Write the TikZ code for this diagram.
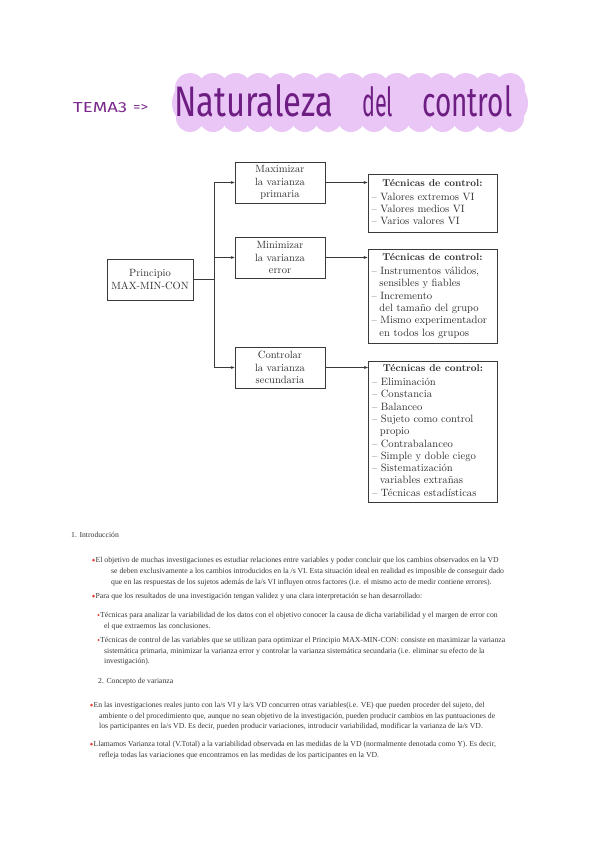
\documentclass[tikz,border=0pt]{standalone}
\usepackage{fontspec}
\usetikzlibrary{arrows.meta}
\newfontfamily\handfont{Fira Sans}
\newfontfamily\bodyfont{Liberation Serif}
\definecolor{blobc}{HTML}{E9C6F6}
\definecolor{titlec}{HTML}{6E1E82}
\definecolor{temac}{HTML}{7A2A8C}
\definecolor{linec}{HTML}{3A3A3A}
\definecolor{txtc}{HTML}{2E2E2E}
\definecolor{bodyc}{HTML}{383838}
\definecolor{redc}{HTML}{E8433B}
\tikzset{
  lbox/.style={draw=linec, line width=0.7pt, minimum width=90pt, minimum height=41pt, align=center, text=txtc, font=\fontsize{10.5}{12.5}\selectfont, inner sep=2pt},
  rbox/.style={draw=linec, line width=0.9pt, minimum width=129pt, align=left, text=txtc, font=\fontsize{10.6}{12.3}\selectfont, inner sep=2pt},
  conn/.style={draw=linec, line width=0.8pt},
  arr/.style={conn, -{Stealth[length=4pt,width=3pt]}},
  body/.style={anchor=base west, inner sep=0pt, text=bodyc, font=\bodyfont\fontsize{7.7}{10}\selectfont},
  dot/.style={fill=redc},
}
\newcommand{\hdr}{\makebox[122pt]{\fontsize{10}{12}\selectfont\textbf{Técnicas de control:}}}
\newcommand{\ind}{\hspace*{0.75em}}
\begin{document}
\begin{tikzpicture}[x=1pt,y=-1pt]
\useasboundingbox[fill=white] (0,0) rectangle (600,848);
% title blob
\fill[blobc] (180,84) rectangle (518,124);
\foreach \x in {190,213,236,259,282,305,328,351,374,397,420,443,466,489,510}{
  \fill[blobc] (\x,88) circle (15);
  \fill[blobc] (\x,118) circle (14);
}
\fill[blobc] (196,103) circle (24);
\fill[blobc] (504,103) circle (24);
\node[anchor=base west, inner sep=0pt, text=temac] (tema) at (73,113) {\resizebox{54pt}{10pt}{\handfont TEMA3}};
\node[anchor=base west, inner sep=0pt, text=temac] (impl) at (133,112) {\resizebox{15pt}{7pt}{\handfont =>}};
\node[anchor=base west, inner sep=0pt, text=titlec] (t1) at (174,117) {\resizebox{159pt}{32pt}{\handfont Naturaleza}};
\node[anchor=base west, inner sep=0pt, text=titlec] (t2) at (362,117) {\resizebox{31pt}{30pt}{\handfont del}};
\node[anchor=base west, inner sep=0pt, text=titlec] (t3) at (422,117) {\resizebox{90pt}{31pt}{\handfont control}};
% diagram
\node[lbox, minimum width=86pt] (p) at (150,279.5) {Principio\\MAX-MIN-CON};
\node[lbox] (b1) at (280,182.5) {Maximizar\\la varianza\\primaria};
\node[lbox] (b2) at (280,257.5) {Minimizar\\la varianza\\error};
\node[lbox] (b3) at (280,367.5) {Controlar\\la varianza\\secundaria};
\node[rbox, minimum height=58pt] (r1) at (432.5,203) {\begin{tabular}{@{}l@{}}\hdr\\[1.5pt]
– Valores extremos VI\\
– Valores medios VI\\
– Varios valores VI\end{tabular}};
\node[rbox, minimum height=94pt] (r2) at (432.5,296) {\begin{tabular}{@{}l@{}}\hdr\\[1.5pt]
– Instrumentos válidos,\\
\ind sensibles y fiables\\
– Incremento\\
\ind del tamaño del grupo\\
– Mismo experimentador\\
\ind en todos los grupos\end{tabular}};
\node[rbox, minimum height=141pt] (r3) at (433,431.5) {\begin{tabular}{@{}l@{}}\hdr\\[1.5pt]
– Eliminación\\
– Constancia\\
– Balanceo\\
– Sujeto como control\\
\ind propio\\
– Contrabalanceo\\
– Simple y doble ciego\\
– Sistematización\\
\ind variables extrañas\\
– Técnicas estadísticas\end{tabular}};
\coordinate (jn) at (214,279.5);
\draw[conn] (p.east) -- (jn);
\draw[conn] (jn |- b1.west) -- (jn |- b3.west);
\draw[arr] (jn |- b1.west) -- (b1.west);
\draw[arr] (jn |- b2.west) -- (b2.west);
\draw[arr] (jn |- b3.west) -- (b3.west);
\draw[arr] (b1.east) -- (b1.east -| r1.west);
\draw[arr] (b2.east) -- (b2.east -| r2.west);
\draw[arr] (b3.east) -- (b3.east -| r3.west);
% body text
\node[body] (s1) at (71,537.5) {1. Introducción};
\fill[dot] (93.5,560) circle (1.5);
\node[body] (a1) at (95.5,562.5) {El objetivo de muchas investigaciones es estudiar relaciones entre variables y poder concluir que los cambios observados en la VD};
\node[body] (a2) at (111,573.5) {se deben exclusivamente a los cambios introducidos en la /s VI. Esta situación ideal en realidad es imposible de conseguir dado};
\node[body] (a3) at (111,584) {que en las respuestas de los sujetos además de la/s VI influyen otros factores (i.e. el mismo acto de medir contiene errores).};
\fill[dot] (93.5,596) circle (1.5);
\node[body] (b1t) at (95.5,598.5) {Para que los resultados de una investigación tengan validez y una clara interpretación se han desarrollado:};
\fill[dot] (98.5,615) circle (1.1);
\node[body] (c1) at (100,617.5) {Técnicas para analizar la variabilidad de los datos con el objetivo conocer la causa de dicha variabilidad y el margen de error con};
\node[body] (c2) at (104,628) {el que extraemos las conclusiones.};
\fill[dot] (98.5,640) circle (1.1);
\node[body] (d1) at (100,642.5) {Técnicas de control de las variables que se utilizan para optimizar el Principio MAX-MIN-CON: consiste en maximizar la varianza};
\node[body] (d2) at (104,653) {sistemática primaria, minimizar la varianza error y controlar la varianza sistemática secundaria (i.e. eliminar su efecto de la};
\node[body] (d3) at (104,663.5) {investigación).};
\node[body] (s2) at (98,683.5) {2. Concepto de varianza};
\fill[dot] (91.5,705) circle (1.5);
\node[body] (e1) at (93.5,707.5) {En las investigaciones reales junto con la/s VI y la/s VD concurren otras variables(i.e. VE) que pueden proceder del sujeto, del};
\node[body] (e2) at (99,718) {ambiente o del procedimiento que, aunque no sean objetivo de la investigación, pueden producir cambios en las puntuaciones de};
\node[body] (e3) at (99,728.5) {los participantes en la/s VD. Es decir, pueden producir variaciones, introducir variabilidad, modificar la varianza de la/s VD.};
\fill[dot] (91.5,744) circle (1.5);
\node[body] (f1) at (93.5,746.5) {Llamamos Varianza total (V.Total) a la variabilidad observada en las medidas de la VD (normalmente denotada como Y). Es decir,};
\node[body] (f2) at (99,757.5) {refleja todas las variaciones que encontramos en las medidas de los participantes en la VD.};
\end{tikzpicture}
\end{document}
